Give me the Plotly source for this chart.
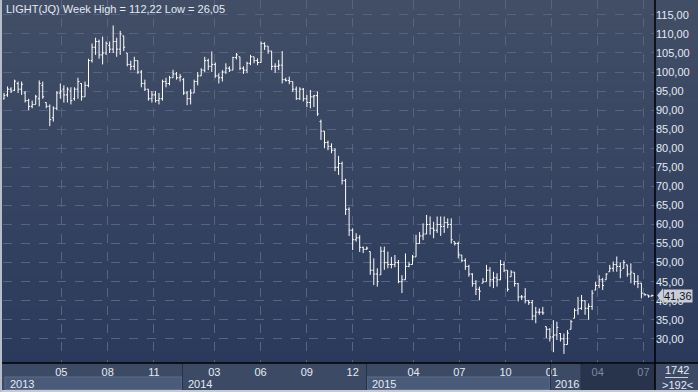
import plotly.graph_objects as go
import pandas as pd

# ---------------- data (weekly OHLC) ----------------
START = "2013-01-07"
opens = [93.0,94.0,95.5,95.2,97.0,95.5,94.5,92.5,91.0,91.5,93.0,96.5,92.0,91.0,88.0,90.5,94.5,95.5,94.0,95.0,
         93.0,95.5,97.0,93.5,96.5,103.0,106.5,108.0,104.5,105.0,107.0,106.0,108.0,106.0,109.5,105.0,102.0,101.5,103.0,100.0,
         97.0,95.5,93.0,94.0,92.5,93.0,97.5,97.0,98.5,99.5,98.5,98.0,94.5,93.0,94.5,97.5,99.0,100.5,103.0,101.5,
         102.0,99.0,98.5,100.0,101.0,100.5,103.8,104.0,101.0,100.5,102.3,104.0,103.0,102.5,107.5,106.8,105.5,101.5,101.5,101.8,
         98.0,97.8,97.5,95.5,93.0,95.5,93.0,92.0,93.5,93.8,87.0,84.5,81.5,80.5,79.5,75.0,76.0,71.5,64.0,58.5,
         56.0,56.5,54.0,53.5,52.9,48.0,47.0,46.8,53.0,50.0,49.5,49.5,50.0,45.0,45.5,49.0,49.5,51.5,55.0,57.0,
         57.5,60.0,59.0,58.5,60.0,59.5,60.5,60.0,55.5,55.0,52.0,50.5,49.0,47.0,44.5,43.0,44.6,45.0,48.0,45.5,
         46.0,45.5,49.5,48.0,46.3,47.5,44.5,41.0,41.0,40.0,39.5,36.0,37.0,37.0,33.2,32.5,30.5,31.0,31.4,30.0,
         28.5,32.5,35.4,37.5,38.0,40.0,38.0,38.5,42.8,44.0,45.5,45.5,47.6,48.5,49.5,49.0,48.5,49.4,47.0,47.2,
         45.0,44.6,41.8,41.5,41.2]
highs = [94.5,96.2,96.0,98.0,97.5,97.5,95.0,93.0,92.5,94.0,97.8,97.5,92.0,91.5,91.0,95.0,97.0,96.5,96.0,96.0,
         96.0,98.5,97.0,97.5,103.5,107.5,109.0,108.5,109.3,108.0,108.0,112.22,109.0,110.8,109.5,105.0,103.0,104.0,103.0,100.5,
         98.0,95.5,95.0,95.0,94.5,98.0,98.5,99.0,100.6,100.0,99.5,98.4,95.0,95.5,98.0,100.0,101.0,104.0,103.5,105.4,
         102.5,99.7,100.5,102.3,101.5,104.0,105.0,104.0,101.5,102.7,104.5,104.0,103.6,108.0,107.8,106.8,105.5,102.3,103.2,105.5,
         98.5,98.8,97.5,96.2,96.0,95.8,94.0,95.3,94.0,94.9,87.5,84.5,82.0,81.3,80.0,78.0,76.5,72.0,64.5,59.0,
         57.7,57.2,54.2,54.2,52.9,51.1,48.5,54.2,54.2,52.9,51.5,52.0,50.7,46.7,52.4,50.2,52.0,57.3,58.0,60.3,
         62.5,62.1,60.7,62.1,62.1,62.1,61.6,61.6,55.5,55.5,52.0,51.1,49.4,47.2,45.4,43.7,45.9,49.4,48.8,47.6,
         47.2,50.7,50.3,48.0,48.0,47.5,44.6,41.5,43.3,40.2,40.2,38.4,38.0,38.4,33.2,32.8,34.9,34.5,31.5,31.4,
         32.3,35.0,38.0,41.0,41.5,40.0,39.3,42.8,45.0,46.7,46.0,47.2,49.4,50.3,51.6,50.0,50.7,49.4,49.8,47.2,
         46.7,44.6,41.8,41.5,41.6]
lows = [92.8,93.5,94.5,95.0,94.5,94.0,92.0,90.0,90.5,91.5,91.0,93.0,90.5,85.8,87.0,90.0,93.0,92.0,92.0,91.5,
        92.5,93.0,92.5,93.5,96.0,102.5,104.5,103.5,102.0,104.5,105.0,105.0,104.0,104.5,105.5,101.5,100.5,100.5,99.5,96.0,
        95.0,92.5,92.0,92.0,91.5,92.5,96.0,96.5,98.5,98.0,97.5,94.0,91.3,91.5,94.5,96.5,99.0,100.0,100.5,100.0,
        98.5,97.0,97.5,99.5,100.0,100.5,103.3,100.5,99.5,99.7,101.8,102.3,101.8,102.5,105.8,104.8,100.5,99.8,100.5,97.0,
        97.5,96.8,94.8,92.7,92.7,92.3,90.8,90.5,90.8,88.5,82.2,80.0,79.5,78.7,74.0,73.0,70.5,62.5,57.0,53.3,
        55.5,52.8,52.5,53.3,46.8,44.1,43.7,46.8,48.1,48.5,48.5,48.8,44.6,42.0,45.5,48.8,49.5,51.5,55.0,55.9,
        57.5,57.3,56.4,57.8,57.0,57.8,59.0,55.0,54.5,51.1,50.2,48.1,46.3,43.7,41.5,40.2,44.6,45.0,43.7,43.3,
        43.7,45.4,47.5,42.4,46.3,43.7,39.8,40.2,39.3,38.9,34.9,34.1,36.3,36.3,30.2,29.3,26.5,29.7,29.3,26.05,
        28.5,32.5,35.4,36.3,37.6,36.3,35.0,37.6,42.8,43.3,42.8,45.5,47.6,47.6,47.6,45.9,48.5,46.3,44.6,44.1,
        43.3,40.6,41.3,40.8,41.1]
closes = [93.8,95.5,95.0,97.6,95.5,96.8,92.5,91.0,91.5,93.5,97.0,93.5,91.0,87.5,90.5,94.5,95.0,94.0,95.5,92.5,
          95.5,97.5,93.5,96.5,103.0,106.5,108.0,104.5,105.0,107.5,106.0,108.0,106.0,110.0,106.5,102.0,101.5,103.0,100.0,97.0,
          95.5,93.0,94.0,92.5,93.0,97.5,97.0,98.5,99.5,98.5,98.8,94.5,93.0,94.5,97.5,99.0,100.5,103.0,101.5,102.0,
          99.0,98.5,100.0,101.0,100.5,103.8,104.5,101.0,100.5,102.3,104.0,103.0,102.5,107.5,106.8,105.5,101.5,101.5,101.8,98.0,
          97.8,97.5,95.5,93.0,95.5,93.0,92.0,93.5,93.8,89.0,84.5,81.5,80.5,79.5,75.0,76.0,71.5,64.0,58.5,56.0,
          56.5,54.0,53.5,53.8,48.0,47.0,45.0,53.0,50.0,49.5,49.5,50.0,45.0,45.5,49.0,49.5,51.5,55.0,57.0,57.5,
          60.0,59.0,58.5,60.0,59.5,60.5,60.0,56.0,55.0,52.0,50.5,49.0,47.0,44.5,43.0,42.5,45.0,48.0,45.5,46.0,
          45.5,49.5,48.0,43.0,47.5,44.5,41.0,41.0,40.0,39.5,36.0,37.0,37.0,36.8,32.5,30.5,31.0,33.0,30.0,28.5,
          31.5,34.5,37.5,38.0,40.0,38.0,38.5,42.0,44.0,45.5,44.0,47.0,48.5,49.5,49.0,48.0,50.0,47.0,47.5,45.0,
          44.5,42.0,41.6,41.2,41.36]

price_ticks = [30, 35, 40, 45, 50, 55, 60, 65, 70, 75, 80, 85, 90, 95, 100, 105, 110, 115]
month_ticks = ["2013-05-01", "2013-08-01", "2013-11-01", "2014-03-01", "2014-06-01", "2014-09-01",
               "2014-12-01", "2015-04-01", "2015-07-01", "2015-10-01", "2016-01-01", "2016-04-01", "2016-07-01"]
month_labels = ["05", "08", "11", "03", "06", "09", "12", "04", "07", "10", "01", "04", "07"]
month_dim = [False] * 11 + [True, True]
years = ["2013", "2014", "2015", "2016"]
counter_top, counter_bottom = "1742", ">192<"

dates = pd.date_range(START, periods=len(closes), freq="7D")

# ---------------- figure ----------------
W, H = 698, 392
PX_L, PX_R, PX_B = 3, 655, 363


def px(x):
    return x / W


def py(y):
    return (H - y) / H


FONT = "Liberation Sans, Arial, sans-serif"
TXT = "#e4eaf3"

fig = go.Figure()
fig.add_trace(go.Ohlc(
    x=dates, open=opens, high=highs, low=lows, close=closes,
    increasing=dict(line=dict(color="#ffffff", width=1)),
    decreasing=dict(line=dict(color="#ffffff", width=1)),
    tickwidth=0.4, hoverinfo="skip", showlegend=False,
))

shapes = []
# vertical gradient background (plot + right panel)
n_bands = 60
top_c, bot_c = (66, 78, 102), (43, 58, 92)
for k in range(n_bands):
    t = k / (n_bands - 1)
    c = tuple(round(top_c[j] + (bot_c[j] - top_c[j]) * t) for j in range(3))
    y0 = PX_B * k / n_bands
    y1 = PX_B * (k + 1) / n_bands
    shapes.append(dict(type="rect", xref="paper", yref="paper", layer="below",
                       x0=0, x1=1, y0=py(y1 + 0.5), y1=py(y0),
                       fillcolor="rgb(%d,%d,%d)" % c, line=dict(width=0)))
# bottom axis area
shapes.append(dict(type="rect", xref="paper", yref="paper", layer="below",
                   x0=0, x1=1, y0=py(392), y1=py(PX_B), fillcolor="#3d4a66", line=dict(width=0)))
for x0, x1 in [(5, 182), (367, 550)]:
    shapes.append(dict(type="rect", xref="paper", yref="paper", layer="below",
                       x0=px(x0), x1=px(x1), y0=py(389.5), y1=py(377),
                       fillcolor="#4a5a79", line=dict(width=1, color="#5d6d8b")))
shapes.append(dict(type="rect", xref="paper", yref="paper", layer="below",
                   x0=px(581), x1=px(PX_R), y0=py(390), y1=py(PX_B + 1),
                   fillcolor="#28334c", line=dict(width=0)))
for xs in [182.5, 366.5, 550.5, 581]:
    shapes.append(dict(type="line", xref="paper", yref="paper", layer="above",
                       x0=px(xs), x1=px(xs), y0=py(390), y1=py(PX_B),
                       line=dict(width=1, color="#27314a")))
# frame lines
shapes.append(dict(type="line", xref="paper", yref="paper", x0=0, x1=1, y0=py(PX_B), y1=py(PX_B),
                   line=dict(width=1.5, color="#000000")))
shapes.append(dict(type="line", xref="paper", yref="paper", x0=px(PX_R), x1=px(PX_R), y0=0, y1=1,
                   line=dict(width=1.5, color="#000000")))
shapes.append(dict(type="line", xref="paper", yref="paper", x0=px(665), x1=px(688), y0=py(377.5), y1=py(377.5),
                   line=dict(width=1, color="#c9d1dd")))
shapes.append(dict(type="rect", xref="paper", yref="paper", x0=0, x1=1, y0=0, y1=py(390),
                   fillcolor="#c5cbd4", line=dict(width=0)))
shapes.append(dict(type="rect", xref="paper", yref="paper", x0=0, x1=px(2), y0=0, y1=1,
                   fillcolor="#b6bec9", line=dict(width=0)))

# last price marker
last = closes[-1]
shapes.append(dict(type="path", xref="paper", yref="y",
                   path="M %f,%f L %f,%f L %f,%f Z" % (px(657), last, px(663), last + 1.9, px(663), last - 1.9),
                   fillcolor="#c9ced6", line=dict(width=0)))

annotations = [
    dict(xref="paper", yref="paper", x=px(4), y=py(1), xanchor="left", yanchor="top", showarrow=False,
         text="LIGHT(JQ) Week High = %s Low = %s" % (("%.2f" % max(highs)).replace(".", ","),
                                                      ("%.2f" % min(lows)).replace(".", ",")),
         font=dict(family=FONT, size=11, color=TXT)),
    dict(xref="paper", yref="y", x=px(663), y=last, xanchor="left", yanchor="middle", showarrow=False,
         text=("%.2f" % last).replace(".", ","), bgcolor="#c9ced6", borderpad=0,
         font=dict(family=FONT, size=11, color="#101418")),
    dict(xref="paper", yref="paper", x=px(677), y=py(370), xanchor="center", yanchor="middle", showarrow=False,
         text=counter_top, font=dict(family=FONT, size=11, color=TXT)),
    dict(xref="paper", yref="paper", x=px(677), y=py(384.5), xanchor="center", yanchor="middle", showarrow=False,
         text=counter_bottom, font=dict(family=FONT, size=11, color=TXT)),
]
for name, xl in zip(years, [8, 186, 370, 553]):
    annotations.append(dict(xref="paper", yref="paper", x=px(xl), y=py(384), xanchor="left", yanchor="middle",
                            showarrow=False, text=name, font=dict(family=FONT, size=11, color=TXT)))

ticktext = ['<span style="color:#7b89a2">%s</span>' % m if d else m for m, d in zip(month_labels, month_dim)]

fig.update_layout(
    width=W, height=H, margin=dict(l=0, r=0, t=0, b=0),
    paper_bgcolor="#3a4762", plot_bgcolor="rgba(0,0,0,0)",
    font=dict(family=FONT, size=11, color=TXT),
    shapes=shapes, annotations=annotations, showlegend=False,
    xaxis=dict(domain=[px(PX_L), px(PX_R)], type="date",
               range=["2013-01-05", "2016-07-24"],
               tickvals=month_ticks, ticktext=ticktext, ticks="", ticklabelstandoff=1,
               showgrid=True, gridcolor="#56647f", griddash="dash", gridwidth=1,
               zeroline=False, showline=False, rangeslider=dict(visible=False),
               tickfont=dict(family=FONT, size=11, color=TXT), automargin=False, fixedrange=True),
    yaxis=dict(domain=[py(PX_B), 1], side="right", range=[23.66, 118.9],
               tickvals=price_ticks, ticktext=[("%.2f" % v).replace(".", ",") for v in price_ticks],
               ticks="", showgrid=True, gridcolor="#56647f", griddash="dash", gridwidth=1,
               zeroline=False, showline=False,
               tickfont=dict(family=FONT, size=11, color=TXT), automargin=False, fixedrange=True),
)

fig.write_html("out.html")
